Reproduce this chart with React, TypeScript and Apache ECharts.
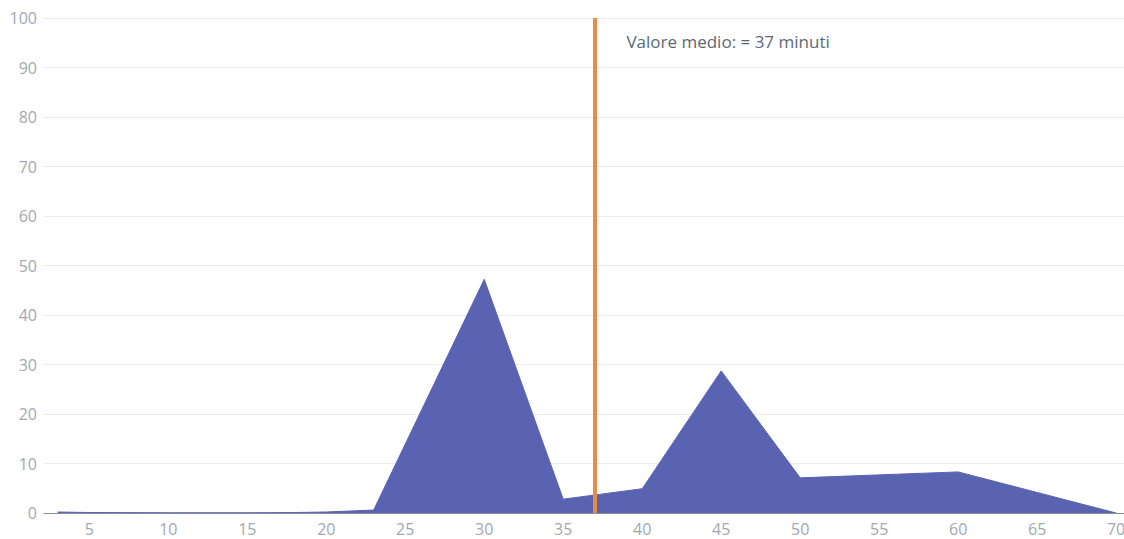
import React, { useEffect, useRef } from "react";
import * as echarts from "echarts";

const minutes = [3, 5, 10, 15, 18, 20, 23, 30, 35, 40, 45, 50, 60, 70];
const counts = [0.2, 0.1, 0.05, 0.05, 0.1, 0.2, 0.6, 47.2, 2.8, 4.9, 28.7, 7.1, 8.3, 0];
const xTicks = [5, 10, 15, 20, 25, 30, 35, 40, 45, 50, 55, 60, 65, 70];
const meanValue = 37;
const meanLabel = "Valore medio: = 37 minuti";

export default function App() {
  const ref = useRef<HTMLDivElement>(null);
  useEffect(() => {
    if (!ref.current) return;
    const chart = echarts.init(ref.current, null, { renderer: "svg" });
    const font = "'Open Sans', 'Noto Sans', sans-serif";
    chart.setOption({
      animation: false,
      grid: { left: 44, right: 0, top: 18, bottom: 26, containLabel: false, outerBoundsMode: "none" },
      xAxis: {
        type: "value",
        min: 2.13,
        max: 70.5,
        splitLine: { show: false },
        axisLine: { show: true, lineStyle: { color: "#8a8f96", width: 1 } },
        axisTick: { show: false },
        axisLabel: {
          customValues: xTicks,
          color: "#a3a8b0",
          fontSize: 16,
          fontFamily: font,
          margin: 8,
          lineHeight: 16,
          showMinLabel: true,
          showMaxLabel: true,
        },
      },
      yAxis: {
        type: "value",
        min: 0,
        max: 100,
        interval: 10,
        axisLine: { show: false },
        axisTick: { show: false },
        splitLine: { lineStyle: { color: "#ebebeb", width: 1 } },
        axisLabel: { color: "#a3a8b0", fontSize: 16, fontFamily: font, margin: 7 },
      },
      series: [
        {
          type: "line",
          data: minutes.map((m, i) => [m, counts[i]]),
          symbol: "none",
          lineStyle: { color: "#5a63b1", width: 1 },
          areaStyle: { color: "#5a63b1", opacity: 1 },
          markLine: {
            silent: true,
            symbol: "none",
            lineStyle: { color: "#ea8a46", width: 4, type: "solid" },
            label: { show: false },
            data: [{ xAxis: meanValue }],
          },
          markPoint: {
            symbol: "circle",
            symbolSize: 0,
            data: [{ coord: [39, 95.3] }],
            label: {
              show: true,
              position: "right",
              distance: 0,
              formatter: meanLabel,
              color: "#5b6975",
              fontSize: 17,
              fontFamily: font,
            },
          },
        },
      ],
    });
    return () => chart.dispose();
  }, []);
  return <div ref={ref} style={{ width: 1124, height: 539, position: "absolute", left: 0, top: 0 }} />;
}
